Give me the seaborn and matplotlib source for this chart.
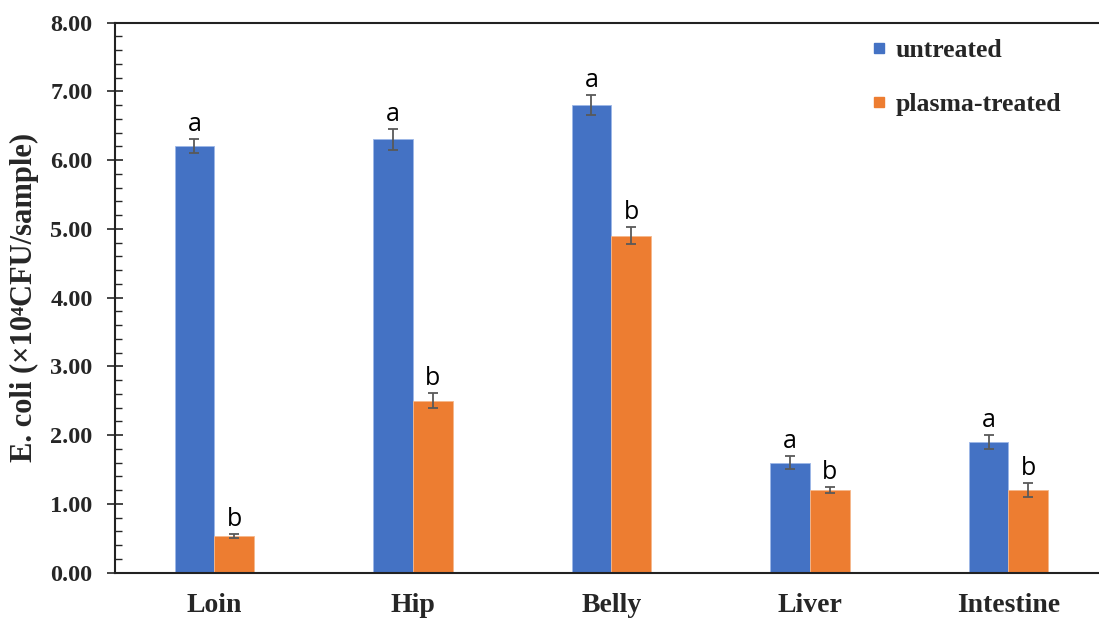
import matplotlib
matplotlib.use("Agg")
import matplotlib.pyplot as plt
from matplotlib.lines import Line2D
from matplotlib.ticker import MultipleLocator, FormatStrFormatter
import seaborn as sns
import pandas as pd

# Sample sites and E. coli counts (x10^4 CFU/sample)
sites = ["Loin", "Hip", "Belly", "Liver", "Intestine"]
treatments = ["untreated", "plasma-treated"]
untreated = [6.20, 6.30, 6.80, 1.60, 1.90]
untreated_err = [0.10, 0.15, 0.15, 0.10, 0.10]
plasma = [0.53, 2.50, 4.90, 1.20, 1.20]
plasma_err = [0.03, 0.11, 0.12, 0.05, 0.10]
untreated_sig = ["a", "a", "a", "a", "a"]
plasma_sig = ["b", "b", "b", "b", "b"]

colors = ["#4472C4", "#ED7D31"]

df = pd.DataFrame({
    "site": sites * 2,
    "treatment": [treatments[0]] * len(sites) + [treatments[1]] * len(sites),
    "count": untreated + plasma,
})

sns.set_style("white")
plt.rcParams["font.family"] = ["Liberation Serif", "DejaVu Serif"]

fig = plt.figure(figsize=(10.99, 6.23), dpi=100)
ax = fig.add_axes([0.1046, 0.081, 0.8954, 0.8828])

sns.barplot(data=df, x="site", y="count", hue="treatment", order=sites,
            hue_order=treatments, palette=colors, width=0.4, errorbar=None,
            saturation=1, linewidth=0.6, edgecolor="#9DB7E8", ax=ax)

# Lighter edges for the orange bars
for p in ax.containers[1]:
    p.set_edgecolor("#F6B88C")

errs = [untreated_err, plasma_err]
vals = [untreated, plasma]
sigs = [untreated_sig, plasma_sig]
for cont, v, e, s in zip(ax.containers, vals, errs, sigs):
    xs = [p.get_x() + p.get_width() / 2 for p in cont]
    ax.errorbar(xs, v, yerr=e, fmt="none", ecolor="#595959", elinewidth=1.3,
                capsize=3.5, capthick=1.3, zorder=5)
    for x, y, err, lab in zip(xs, v, e, s):
        ax.text(x, y + err + 0.03, lab, ha="center", va="bottom",
                fontsize=18, family=["Open Sans", "DejaVu Sans"], color="black")

ax.set_ylim(0, 8)
ax.set_xlim(-0.5, 4.456)
ax.yaxis.set_major_locator(MultipleLocator(1))
ax.yaxis.set_minor_locator(MultipleLocator(0.2))
ax.yaxis.set_major_formatter(FormatStrFormatter("%.2f"))
ax.tick_params(axis="y", which="major", direction="inout", length=12, width=1.2,
               left=True, labelsize=17.5, pad=10)
ax.tick_params(axis="y", which="minor", direction="in", length=5, width=1.0, left=True)
ax.tick_params(axis="x", bottom=False, labelsize=20, pad=11)
for lab in ax.get_yticklabels() + ax.get_xticklabels():
    lab.set_fontweight("bold")

for side in ["left", "bottom", "top"]:
    ax.spines[side].set_visible(True)
    ax.spines[side].set_color("#222222")
    ax.spines[side].set_linewidth(1.5)
ax.spines["right"].set_visible(False)

ax.set_xlabel("")
ax.set_ylabel("E. coli (\u00d710\u2074CFU/sample)", fontsize=22, fontweight="bold")
ax.yaxis.set_label_coords(-0.077, 0.5)

handles = [Line2D([], [], marker="s", linestyle="none", markersize=7,
                  markerfacecolor=c, markeredgecolor=c) for c in colors]
ax.legend(handles, treatments, loc="upper left", bbox_to_anchor=(0.773, 0.975),
          bbox_transform=fig.transFigure, frameon=False, handlelength=0.5,
          handletextpad=0.4, labelspacing=1.2, prop={"weight": "bold", "size": 18.5})

fig.savefig("out.png", dpi=100)
